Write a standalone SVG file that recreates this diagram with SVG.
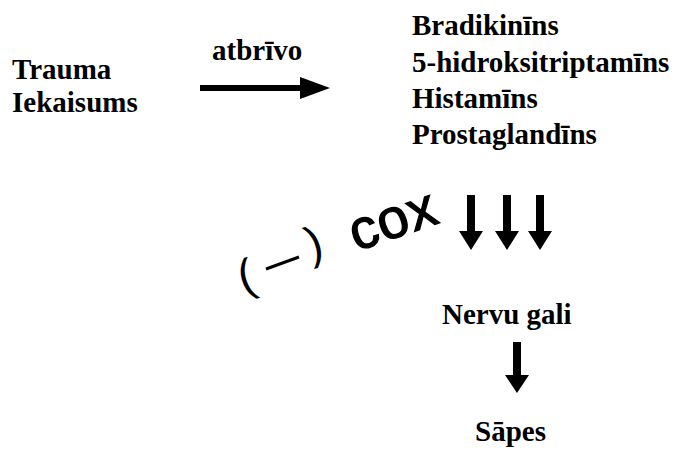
<svg xmlns="http://www.w3.org/2000/svg" width="676" height="451" viewBox="0 0 676 451">
<style>
.t{font-family:"Liberation Serif","Times New Roman",serif;font-weight:bold;font-size:29px;fill:#000}
.s{font-family:"Liberation Sans",Arial,sans-serif;fill:#000}
</style>
<rect width="676" height="451" fill="#fff"/>
<g id="source">
<text class="t" x="12" y="79">Trauma</text>
<text class="t" x="12" y="112">Iekaisums</text>
</g>
<g id="mediators">
<text class="t" x="412" y="35">Bradikinīns</text>
<text class="t" x="412" y="72">5-hidroksitriptamīns</text>
<text class="t" x="412" y="108">Histamīns</text>
<text class="t" x="412" y="144">Prostaglandīns</text>
</g>
<g id="nerves">
<text class="t" x="442" y="324">Nervu gali</text>
</g>
<g id="pain">
<text class="t" x="475" y="441">Sāpes</text>
</g>
<g id="cox">
<g transform="rotate(-19 395 217)">
<text class="s" x="347" y="237" font-size="56" letter-spacing="1" stroke="#000" stroke-width="1.2">cox</text>
</g>
<text class="s" x="238" y="291" font-size="46" transform="rotate(-17 247 275)">(</text>
<line x1="266" y1="269" x2="299" y2="257" stroke="#000" stroke-width="3"/>
<text class="s" x="306" y="258" font-size="46" transform="rotate(-17 315 242)">)</text>
</g>
<g id="connectors">
<path d="M200,85 h100 v-8 l30,11 l-30,11 v-8 h-100 z" fill="#000"/>
<text class="t" x="212" y="60">atbrīvo</text>
<path d="M467,195 h8 v36 h8 l-12,19 l-12,-19 h8 z" fill="#000"/>
<path d="M503,195 h8 v36 h8 l-12,19 l-12,-19 h8 z" fill="#000"/>
<path d="M536,195 h8 v36 h8 l-12,19 l-12,-19 h8 z" fill="#000"/>
<path d="M513,342 h8 v33 h8 l-12,18 l-12,-18 h8 z" fill="#000"/>
</g>
</svg>
